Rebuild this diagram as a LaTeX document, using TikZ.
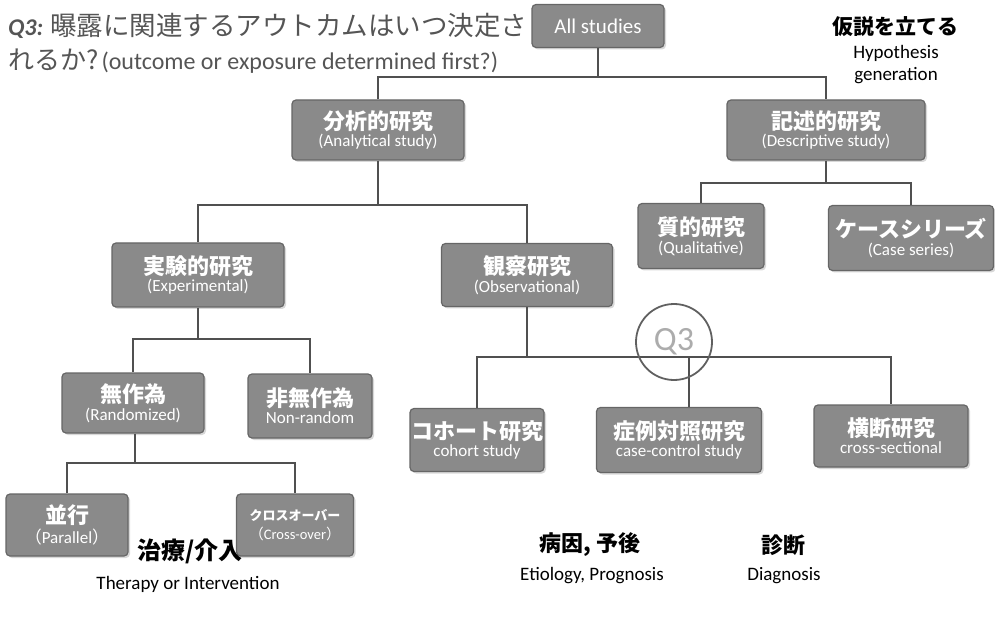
\documentclass[tikz,border=0pt]{standalone}
\usepackage{fontspec}
\setmainfont{Carlito}
\newfontfamily\jp{Noto Sans CJK JP}
\usetikzlibrary{shadows}
\definecolor{boxfill}{HTML}{8A8A8A}
\definecolor{boxline}{HTML}{666666}
\definecolor{connc}{HTML}{505050}
\definecolor{titlec}{HTML}{555555}
\newcommand\boxtxt[2]{{\jp\bfseries\fontsize{22}{24}\selectfont #1}\\[2pt]{\fontsize{17}{18}\selectfont #2}}
\begin{document}
\begin{tikzpicture}[x=1pt,y=-1pt,
  box/.style={draw=boxline, fill=boxfill, rounded corners=4pt, line width=1.2pt,
    text=white, align=center, inner sep=1pt,
    drop shadow={shadow xshift=2pt, shadow yshift=-2pt, fill=black!30, opacity=0.5}},
  conn/.style={draw=connc, line width=1.8pt},
  lbl/.style={align=center, inner sep=0pt}]
\useasboundingbox (0,0) rectangle (995,617);

% title
\node[anchor=west, text=titlec, inner sep=0pt] (t1) at (8,26)
  {\fontsize{24}{26}\selectfont\textbf{\textit{Q3:}} {\jp\fontsize{26.5}{28}\selectfont 曝露に関連するアウトカムはいつ決定さ}};
\node[anchor=west, text=titlec, inner sep=0pt] (t2) at (8,61)
  {{\jp\fontsize{26}{28}\selectfont れるか?} {\fontsize{24}{25}\selectfont (outcome or exposure determined first?)}};

% boxes
\node[box, minimum width=132, minimum height=43] (all) at (598,26) {\fontsize{21}{22}\selectfont All studies};
\node[box, minimum width=172, minimum height=60] (ana) at (378,130) {\boxtxt{分析的研究}{(Analytical study)}};
\node[box, minimum width=198, minimum height=60] (des) at (826,130) {\boxtxt{記述的研究}{(Descriptive study)}};
\node[box, minimum width=126, minimum height=65] (qual) at (701,236) {\boxtxt{質的研究}{(Qualitative)}};
\node[box, minimum width=165, minimum height=65] (cser) at (911,238) {\boxtxt{ケースシリーズ}{(Case series)}};
\node[box, minimum width=172, minimum height=64] (exp) at (198,275) {\boxtxt{実験的研究}{(Experimental)}};
\node[box, minimum width=171, minimum height=63] (obs) at (527,275) {\boxtxt{観察研究}{(Observational)}};
\node[box, minimum width=142, minimum height=60] (rand) at (133,403) {\boxtxt{無作為}{(Randomized)}};
\node[box, minimum width=124, minimum height=64] (nonr) at (310,406) {\boxtxt{非無作為}{Non-random}};
\node[box, minimum width=128, minimum height=63] (coh) at (477,440) {\boxtxt{コホート研究}{cohort study}};
\node[box, minimum width=165, minimum height=65] (cc) at (679,440) {\boxtxt{症例対照研究}{case-control study}};
\node[box, minimum width=154, minimum height=62] (cross) at (891,436) {\boxtxt{横断研究}{cross-sectional}};
\node[box, minimum width=122, minimum height=62] (par) at (67,525) {\boxtxt{並行}{{\jp （}Parallel{\jp ）}}};
\node[box, minimum width=117, minimum height=62] (xo) at (295,525)
  {{\jp\bfseries\fontsize{13}{15}\selectfont クロスオーバー}\\[4pt]{\fontsize{14.5}{16}\selectfont {\jp （}Cross-over{\jp ）}}};

% bar coordinates
\coordinate (b1) at (598,77);
\coordinate (b2) at (378,205);
\coordinate (b3) at (826,183);
\coordinate (b4) at (198,339);
\coordinate (b5) at (527,357);
\coordinate (b6) at (135,463);

% connectors
\draw[conn] (all.south) -- (b1);
\draw[conn] (ana.north) |- (b1) -| (des.north);
\draw[conn] (ana.south) -- (b2);
\draw[conn] (exp.north) |- (b2) -| (obs.north);
\draw[conn] (des.south) -- (b3);
\draw[conn] (qual.north) |- (b3) -| (cser.north);
\draw[conn] (exp.south) -- (b4);
\draw[conn] (rand.north) |- (b4) -| (nonr.north);
\draw[conn] (obs.south) -- (b5);
\draw[conn] (coh.north) |- (b5) -| (cross.north);
\draw[conn] ([xshift=10pt]cc.north) |- (b5);
\draw[conn] ([xshift=2pt]rand.south) -- (b6);
\draw[conn] (par.north) |- (b6) -| (xo.north);

% Q3 circle
\node[circle, draw=gray!75!black, line width=1.8pt, minimum size=76, inner sep=0pt,
  text=gray!65] (q3) at (674,342) {\fontsize{34}{36}\selectfont Q3};

% side labels
\node[lbl] (hypj) at (895,27) {\jp\bfseries\fontsize{21}{24}\selectfont 仮説を立てる};
\node[lbl] (hype) at (896,53) {\fontsize{19}{20}\selectfont Hypothesis};
\node[lbl] (gene) at (896,76) {\fontsize{19}{20}\selectfont generation};
\node[lbl] (therj) at (190,551) {\jp\bfseries\fontsize{24}{26}\selectfont 治療/介入};
\node[lbl] (there) at (188,584) {\fontsize{19}{20}\selectfont Therapy or Intervention};
\node[lbl] (etioj) at (590,545) {\jp\bfseries\fontsize{22}{24}\selectfont 病因, 予後};
\node[lbl] (etioe) at (592,576) {\fontsize{19}{20}\selectfont Etiology, Prognosis};
\node[lbl] (diagj) at (783,545) {\jp\bfseries\fontsize{22}{24}\selectfont 診断};
\node[lbl] (diage) at (784,576) {\fontsize{19}{20}\selectfont Diagnosis};
\end{tikzpicture}
\end{document}
